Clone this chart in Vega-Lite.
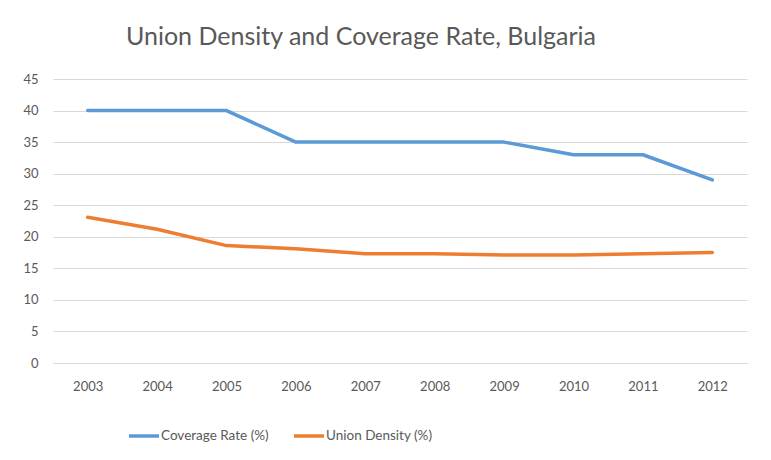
{
  "$schema": "https://vega.github.io/schema/vega-lite/v6.json",
  "width": 694,
  "height": 284,
  "autosize": "none",
  "padding": {"left": 53, "top": 79, "right": 24, "bottom": 97},
  "background": "white",
  "title": {
    "text": "Union Density and Coverage Rate, Bulgaria",
    "font": "Lato",
    "fontSize": 25,
    "fontWeight": "normal",
    "color": "#595959",
    "anchor": "middle",
    "dx": -39,
    "offset": 23
  },
  "data": {
    "values": [
      {"year": "2003", "series": "Coverage Rate (%)", "value": 40},
      {"year": "2004", "series": "Coverage Rate (%)", "value": 40},
      {"year": "2005", "series": "Coverage Rate (%)", "value": 40},
      {"year": "2006", "series": "Coverage Rate (%)", "value": 35},
      {"year": "2007", "series": "Coverage Rate (%)", "value": 35},
      {"year": "2008", "series": "Coverage Rate (%)", "value": 35},
      {"year": "2009", "series": "Coverage Rate (%)", "value": 35},
      {"year": "2010", "series": "Coverage Rate (%)", "value": 33},
      {"year": "2011", "series": "Coverage Rate (%)", "value": 33},
      {"year": "2012", "series": "Coverage Rate (%)", "value": 29},
      {"year": "2003", "series": "Union Density (%)", "value": 23.1},
      {"year": "2004", "series": "Union Density (%)", "value": 21.2},
      {"year": "2005", "series": "Union Density (%)", "value": 18.6},
      {"year": "2006", "series": "Union Density (%)", "value": 18.1},
      {"year": "2007", "series": "Union Density (%)", "value": 17.3},
      {"year": "2008", "series": "Union Density (%)", "value": 17.3},
      {"year": "2009", "series": "Union Density (%)", "value": 17.1},
      {"year": "2010", "series": "Union Density (%)", "value": 17.1},
      {"year": "2011", "series": "Union Density (%)", "value": 17.3},
      {"year": "2012", "series": "Union Density (%)", "value": 17.5}
    ]
  },
  "mark": {"type": "line", "strokeWidth": 3.5, "strokeCap": "round", "strokeJoin": "round"},
  "encoding": {
    "x": {
      "field": "year",
      "type": "ordinal",
      "scale": {"type": "point", "padding": 0.5},
      "axis": {
        "title": null,
        "labelAngle": 0,
        "labelFont": "Lato",
        "labelFontSize": 13,
        "labelColor": "#595959",
        "labelPadding": 17,
        "ticks": false,
        "domainColor": "#D9D9D9",
        "domainWidth": 1,
        "grid": false
      }
    },
    "y": {
      "field": "value",
      "type": "quantitative",
      "scale": {"domain": [0, 45], "nice": false},
      "axis": {
        "title": null,
        "values": [0, 5, 10, 15, 20, 25, 30, 35, 40, 45],
        "labelFont": "Lato",
        "labelFontSize": 13,
        "labelColor": "#595959",
        "labelPadding": 15,
        "ticks": false,
        "domain": false,
        "grid": true,
        "gridColor": "#D9D9D9",
        "gridWidth": 1
      }
    },
    "color": {
      "field": "series",
      "type": "nominal",
      "scale": {
        "domain": ["Coverage Rate (%)", "Union Density (%)"],
        "range": ["#5B9BD5", "#ED7D31"]
      },
      "legend": {
        "title": null,
        "orient": "none",
        "legendX": 74,
        "legendY": 340,
        "direction": "horizontal",
        "symbolType": "stroke",
        "symbolSize": 900,
        "symbolStrokeWidth": 3.5,
        "labelFont": "Lato",
        "labelFontSize": 13.5,
        "labelColor": "#595959",
        "labelOffset": 0,
        "columnPadding": 18
      }
    }
  },
  "config": {
    "view": {"stroke": null}
  }
}
